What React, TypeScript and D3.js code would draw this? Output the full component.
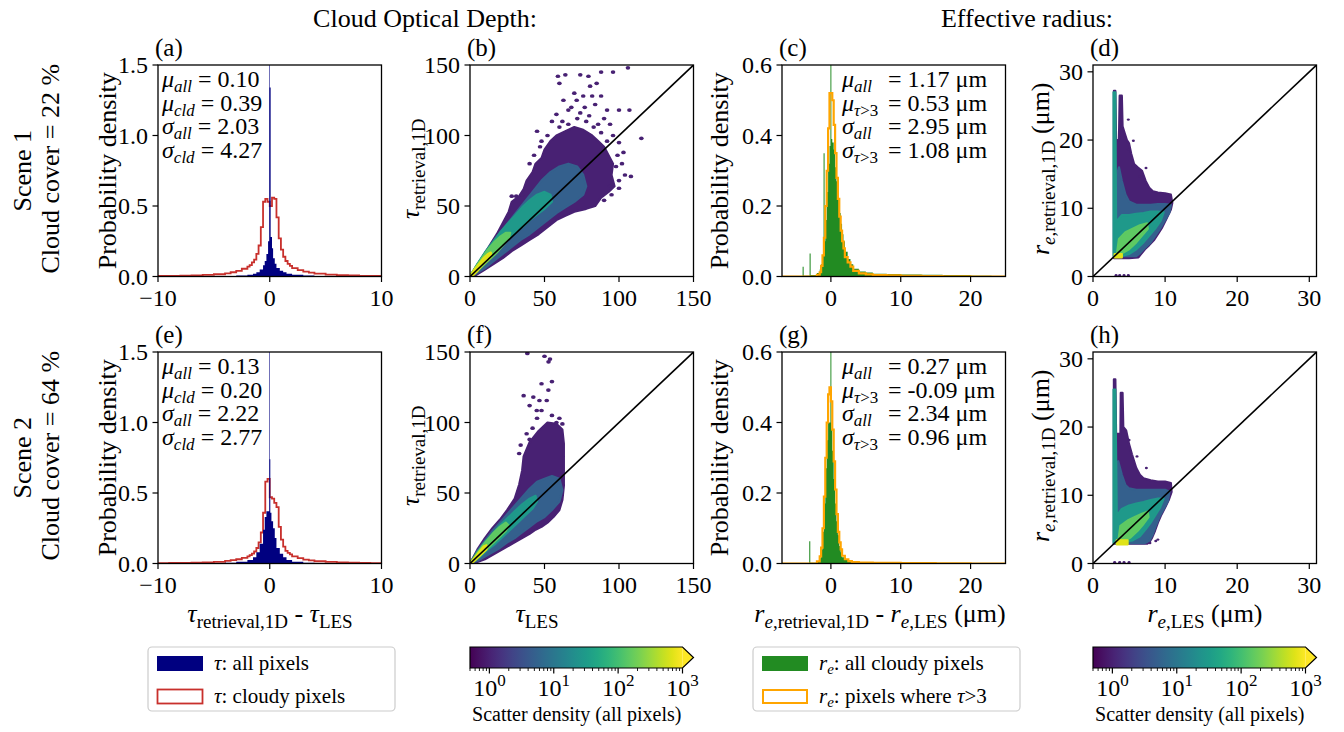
import React from "react"
import * as d3 from "d3"

const FONT = "'Liberation Serif', 'Times New Roman', Times, serif"

// ---------- values ----------
// (a)/(e) tau_retrieval,1D - tau_LES : bin edges + probability density
const tauAllEdges1 = [-10, -6, -4, -3, -2, -1.5, -1.2, -0.9, -0.6, -0.45, -0.3, -0.15, -0.05, 0, 0.08, 0.2, 0.3, 0.45, 0.6, 0.9, 1.2, 1.5, 2, 3, 4, 6, 10]
const tauAllDens1 = [0.001, 0.002, 0.004, 0.007, 0.012, 0.02, 0.03, 0.05, 0.08, 0.11, 0.16, 0.25, 3.0, 1.34, 0.28, 0.2, 0.13, 0.09, 0.06, 0.04, 0.03, 0.02, 0.012, 0.007, 0.004, 0.001]
const tauAllEdges2 = [-10, -6, -4, -3, -2, -1.5, -1.2, -0.9, -0.6, -0.45, -0.3, -0.15, -0.05, 0, 0.05, 0.15, 0.3, 0.45, 0.6, 0.9, 1.2, 1.5, 2, 3, 4, 6, 10]
const tauAllDens2 = [0.001, 0.003, 0.006, 0.012, 0.025, 0.045, 0.08, 0.14, 0.24, 0.33, 0.37, 0.37, 2.5, 0.74, 0.36, 0.3, 0.25, 0.18, 0.11, 0.07, 0.045, 0.025, 0.012, 0.006, 0.003, 0.001]
const tauCldEdges = [-10, -9, -8, -7, -6, -5, -4, -3.5, -3, -2.5, -2, -1.8, -1.6, -1.4, -1.2, -1.0, -0.8, -0.6, -0.4, -0.2, 0, 0.2, 0.4, 0.6, 0.8, 1.0, 1.2, 1.4, 1.6, 1.8, 2, 2.5, 3, 3.5, 4, 5, 6, 7, 8, 9, 10]
const tauCldDens1 = [0.004, 0.005, 0.006, 0.008, 0.011, 0.016, 0.022, 0.03, 0.04, 0.055, 0.07, 0.08, 0.1, 0.12, 0.16, 0.22, 0.35, 0.53, 0.55, 0.53, 0.5, 0.56, 0.55, 0.42, 0.27, 0.19, 0.14, 0.11, 0.09, 0.075, 0.06, 0.045, 0.035, 0.027, 0.02, 0.014, 0.01, 0.007, 0.005, 0.004]
const tauCldDens2 = [0.003, 0.004, 0.005, 0.006, 0.008, 0.012, 0.018, 0.024, 0.03, 0.04, 0.05, 0.06, 0.07, 0.085, 0.11, 0.15, 0.22, 0.36, 0.58, 0.6, 0.47, 0.46, 0.43, 0.4, 0.26, 0.17, 0.12, 0.09, 0.075, 0.065, 0.05, 0.038, 0.028, 0.022, 0.016, 0.011, 0.008, 0.006, 0.004, 0.003]

// (c)/(g) r_e,retrieval,1D - r_e,LES (um)
const reAllEdges1 = [-7, -4.05, -3.9, -3.05, -2.9, -2.0, -1.6, -1.4, -1.2, -1.05, -0.9, -0.8, -0.6, -0.4, -0.2, -0.07, 0.07, 0.2, 0.4, 0.6, 0.8, 1.0, 1.2, 1.4, 1.6, 1.8, 2.0, 2.4, 2.8, 3.2, 4, 5, 6, 8, 10, 13, 16, 20, 23, 25]
const reAllDens1 = [0, 0.028, 0.002, 0.065, 0.004, 0.01, 0.02, 0.035, 0.06, 0.35, 0.1, 0.16, 0.24, 0.32, 0.37, 0.6, 0.39, 0.38, 0.36, 0.31, 0.27, 0.22, 0.18, 0.15, 0.12, 0.1, 0.07, 0.05, 0.035, 0.022, 0.014, 0.011, 0.008, 0.007, 0.006, 0.005, 0.004, 0.002, 0]
const reTauEdges1 = [-7, -2, -1.6, -1.4, -1.2, -1.0, -0.8, -0.6, -0.4, -0.2, 0, 0.2, 0.4, 0.6, 0.8, 1.0, 1.2, 1.4, 1.6, 1.8, 2.0, 2.4, 2.8, 3.2, 4, 5, 6, 8, 10, 13, 16, 20, 25]
const reTauDens1 = [0, 0.005, 0.012, 0.03, 0.06, 0.11, 0.2, 0.3, 0.42, 0.52, 0.52, 0.5, 0.43, 0.35, 0.28, 0.22, 0.17, 0.13, 0.1, 0.08, 0.055, 0.04, 0.028, 0.016, 0.009, 0.006, 0.004, 0.003, 0.002, 0.001, 0.0005, 0]
const reAllEdges2 = [-7, -3.1, -2.95, -2, -1.6, -1.4, -1.2, -1.0, -0.8, -0.6, -0.4, -0.2, -0.07, 0.07, 0.2, 0.4, 0.6, 0.8, 1.0, 1.2, 1.4, 1.6, 2.0, 2.5, 3, 4, 6, 10, 15, 20, 25]
const reAllDens2 = [0.001, 0.063, 0.002, 0.006, 0.015, 0.04, 0.09, 0.17, 0.27, 0.35, 0.4, 0.4, 0.6, 0.38, 0.32, 0.24, 0.17, 0.12, 0.08, 0.05, 0.032, 0.018, 0.01, 0.006, 0.004, 0.003, 0.002, 0.0015, 0.001, 0]
const reTauEdges2 = [-7, -2, -1.6, -1.4, -1.2, -1.0, -0.8, -0.6, -0.4, -0.2, 0, 0.2, 0.4, 0.6, 0.8, 1.0, 1.2, 1.4, 1.6, 2.0, 2.5, 3, 4, 6, 10, 15, 20, 25]
const reTauDens2 = [0, 0.006, 0.02, 0.045, 0.1, 0.19, 0.3, 0.4, 0.48, 0.5, 0.46, 0.38, 0.29, 0.21, 0.14, 0.09, 0.06, 0.04, 0.022, 0.012, 0.007, 0.004, 0.0025, 0.0015, 0.001, 0.0005, 0]

// scatter density: outlines of the regions reaching each density level
const densityLevels = [1, 5, 30, 150, 700]

// (b) scene 1, tau
const tau1Lvl0 = [[0, 0], [6, 10], [12, 20], [18, 30], [22, 38], [26, 46], [28, 53], [33, 57], [36, 62], [38, 68], [42, 74], [44, 80], [48, 84], [50, 90], [54, 96], [58, 100], [64, 103], [70, 106], [76, 104], [82, 100], [86, 96], [90, 92], [93, 86], [96, 80], [95, 72], [97, 64], [93, 60], [88, 56], [84, 50], [78, 48], [70, 46], [64, 43], [58, 40], [52, 35], [46, 30], [40, 26], [34, 22], [28, 18], [22, 13], [16, 9], [10, 5], [4, 1]]
const tau1Lvl1 = [[0, 0], [6, 10], [12, 19], [18, 28], [24, 36], [30, 44], [36, 52], [42, 60], [48, 68], [54, 74], [60, 78], [66, 80], [72, 78], [76, 72], [78, 64], [76, 58], [70, 53], [64, 49], [58, 45], [52, 40], [46, 35], [40, 30], [34, 26], [28, 21], [22, 16], [16, 11], [10, 6], [4, 2]]
const tau1Lvl2 = [[0, 0], [5, 9], [10, 17], [15, 24], [20, 31], [25, 37], [30, 43], [35, 49], [40, 54], [45, 58], [50, 60], [54, 58], [55, 53], [50, 48], [45, 44], [40, 40], [35, 35], [30, 31], [25, 26], [20, 21], [15, 15], [10, 10], [5, 5], [1, 0]]
const tau1Lvl3 = [[0, 0], [4, 7], [8, 13], [12, 19], [16, 24], [20, 28], [24, 31], [27, 31], [26, 27], [22, 22], [18, 17], [14, 13], [10, 9], [6, 5], [2, 1]]
const tau1Lvl4 = [[0, 0], [3, 5], [6, 9], [9, 13], [12, 16], [14, 17], [14, 14], [11, 11], [8, 8], [5, 4], [2, 1]]
const tau1Sparse = [[45, 103], [60, 137], [59, 142], [64, 143], [74, 143], [79.5, 142], [88, 145], [96, 145], [106, 148], [100, 118], [107, 118], [115, 98], [108, 71], [100, 62.6], [94, 64], [76, 128], [80.6, 135], [85, 137], [71.6, 125], [62.7, 125], [66, 118], [72, 112], [84, 122], [90, 112], [78, 110], [86, 108], [96, 100], [100, 95], [103, 88], [98, 78], [104, 72], [100, 68], [28, 57], [31, 57], [35, 58], [55, 110], [58, 115], [62, 110], [68, 120], [88, 128], [92, 118], [82, 128], [60, 106], [52, 100], [48, 96], [74, 116], [80, 114], [88, 102], [92, 96], [99, 86], [102, 80], [95, 58], [90, 54], [66, 108], [70, 130], [77, 120], [83, 106], [94, 108], [40, 80], [43, 86], [47, 92]]

// (f) scene 2, tau
const tau2Lvl0 = [[0, 0], [5, 10], [10, 18], [15, 25], [20, 31], [25, 38], [30, 46], [33, 56], [35, 66], [36, 76], [40, 86], [46, 94], [52, 100], [58, 99], [62, 95], [63, 85], [63, 70], [63, 55], [62, 45], [60, 38], [56, 33], [52, 29], [48, 26], [44, 24], [40, 21], [35, 18], [30, 15], [25, 12], [20, 9], [15, 6], [10, 3], [5, 1]]
const tau2Lvl1 = [[0, 0], [5, 9], [10, 16], [15, 23], [20, 29], [25, 35], [30, 41], [35, 47], [40, 53], [45, 58], [50, 60], [55, 62], [60, 60], [62, 52], [60, 44], [55, 38], [50, 33], [45, 30], [40, 26], [35, 22], [30, 18], [25, 15], [20, 11], [15, 8], [10, 5], [5, 2]]
const tau2Lvl2 = [[0, 0], [5, 8], [10, 15], [15, 21], [20, 27], [25, 32], [30, 37], [35, 42], [40, 46], [44, 48], [45, 44], [42, 39], [37, 34], [32, 29], [27, 24], [22, 19], [17, 14], [12, 10], [7, 5], [3, 2]]
const tau2Lvl3 = [[0, 0], [4, 6], [8, 12], [12, 17], [16, 22], [20, 26], [24, 29], [26, 27], [24, 23], [20, 19], [16, 15], [12, 11], [8, 7], [4, 3]]
const tau2Lvl4 = [[0, 0], [3, 4], [6, 8], [9, 12], [11, 13], [11, 10], [8, 7], [5, 4], [2, 1]]
const tau2Sparse = [[38.5, 149], [50, 147], [52.7, 143], [53.7, 145], [48, 127.5], [55, 129], [36, 119], [42.5, 118], [51.5, 115.6], [48, 108.5], [52.6, 123], [44.8, 108.5], [46.6, 115.6], [40, 112], [45, 103], [55, 105], [58, 100], [42, 96], [38, 92], [40, 88], [34, 84], [33, 78], [60, 103], [62, 99]]

// (d) scene 1, r_e
const re1Lvl0 = [[2.9, 2.7], [2.9, 27.2], [3.1, 27.2], [3.2, 20], [3.6, 20], [3.7, 26.5], [4.0, 26.5], [4.1, 22], [4.4, 21], [4.7, 20], [5.0, 19.5], [5.3, 18], [5.7, 16.5], [6.2, 16], [6.8, 15.5], [7.3, 14], [7.8, 13], [8.3, 12.5], [9, 12.3], [10, 12.2], [10.8, 12], [11, 10.8], [10.8, 9.8], [10.2, 8.5], [9.6, 7.2], [9, 6.2], [8.5, 5.4], [7.8, 4.6], [7.2, 4], [6.6, 3.2], [6.3, 2.8], [5, 2.7], [4, 2.7]]
const re1Lvl1 = [[3.1, 3], [3.1, 14], [3.6, 16], [4.0, 14], [4.5, 12], [5, 11], [6, 10.5], [7, 10.5], [8, 10.5], [9, 10.6], [10, 10.6], [10.8, 10.5], [10.6, 9.4], [10, 8.3], [9.3, 7], [8.6, 5.9], [8, 5], [7.2, 4.2], [6.5, 3.4], [6, 3]]
const re1Lvl2 = [[2.85, 3], [2.85, 27], [3.1, 27], [3.2, 8], [4, 9], [5, 9], [6, 9.2], [7, 9.3], [8, 9.5], [9, 9.5], [9.8, 9.4], [9.4, 8.2], [8.6, 7], [7.8, 6], [7, 5], [6, 4], [5, 3.3], [4, 3]]
const re1Lvl3 = [[3.3, 3.2], [3.6, 5.5], [4.5, 6.5], [5.5, 7], [6.5, 7.5], [7.5, 7.8], [7.6, 7], [6.8, 6], [6, 5], [5, 4], [4, 3.4]]
const re1Lvl4 = [[3.0, 2.8], [3.0, 3.3], [4.0, 3.3], [4.0, 2.8]]
const re1Sparse = [[4.9, 23], [5.6, 19.9], [7.35, 15.9], [7.4, 13.5], [5.6, 16.2], [6.5, 14.7], [4.9, 18.6], [3.2, 0.2], [3.7, 0.2], [4.3, 0.2], [4.9, 0.2]]

// (h) scene 2, r_e
const re2Lvl0 = [[2.9, 2.9], [2.9, 27], [3.1, 27], [3.2, 19], [3.8, 19], [3.85, 25], [4.1, 25], [4.2, 20], [4.6, 19.5], [5, 17.5], [5.4, 16], [6, 14], [6.5, 13], [7, 12.5], [8, 12.2], [9, 12], [10, 12], [10.8, 11.8], [10.9, 10.5], [10.5, 9.3], [10, 8.2], [9.5, 7.2], [9, 6], [8.6, 4.8], [8.2, 3.8], [7.8, 3.1], [7.5, 2.9]]
const re2Lvl1 = [[3.1, 3], [3.1, 14], [3.5, 15], [4.0, 13], [4.5, 11.5], [5, 11], [6, 10.8], [7, 10.8], [8, 10.8], [9, 10.8], [10, 10.8], [10.6, 10.5], [10.4, 9.2], [9.8, 8], [9.2, 6.8], [8.7, 5.5], [8.3, 4.3], [7.8, 3.3], [7.2, 3]]
const re2Lvl2 = [[2.85, 3], [2.85, 25.5], [3.1, 25.5], [3.3, 7], [4, 8], [5, 8.5], [6, 8.8], [7, 9], [8, 9.3], [9, 9.5], [9.8, 9.5], [9.3, 8.2], [8.6, 7], [8, 6], [7.3, 5], [6.5, 4], [5.5, 3.4], [4.5, 3.2]]
const re2Lvl3 = [[3.5, 3.2], [3.8, 5.5], [4.8, 6.3], [5.8, 6.8], [6.8, 7.3], [7.6, 7.6], [7.7, 6.8], [7, 5.8], [6.2, 4.8], [5.2, 3.8], [4.3, 3.3]]
const re2Lvl4 = [[3.3, 2.8], [3.3, 3.4], [4.8, 3.4], [4.8, 2.8]]
const re2Sparse = [[5, 18.1], [4.65, 18.6], [6.1, 15.7], [7.4, 14], [8.7, 3.3], [9, 3.5], [7.9, 3.0], [3.0, 0.2], [3.7, 0.2], [4.3, 0.2], [5.0, 0.2]]

// ticks and text
const tauDiffTicks = [-10, 0, 10]
const tauDensTicks = [0, 0.5, 1.0, 1.5]
const tauScatTicks = [0, 50, 100, 150]
const reDiffTicks = [0, 10, 20]
const reDensTicks = [0, 0.2, 0.4, 0.6]
const reScatTicks = [0, 10, 20, 30]
const cbMajor = [1, 10, 100, 1000]
const tauStats1 = [["μ", "all", "0.10"], ["μ", "cld", "0.39"], ["σ", "all", "2.03"], ["σ", "cld", "4.27"]]
const tauStats2 = [["μ", "all", "0.13"], ["μ", "cld", "0.20"], ["σ", "all", "2.22"], ["σ", "cld", "2.77"]]
const reStats1 = [["μ", "all", "1.17"], ["μ", "τ>3", "0.53"], ["σ", "all", "2.95"], ["σ", "τ>3", "1.08"]]
const reStats2 = [["μ", "all", "0.27"], ["μ", "τ>3", "-0.09"], ["σ", "all", "2.34"], ["σ", "τ>3", "0.96"]]
const cloudCover = ["22", "64"]

// ---------- layout ----------
const COLX = [158, 470, 782, 1093]
const ROWY = [65, 352]
const AW = 223.5
const AH = 211.5

const NAVY = "#000080"
const RED = "#c8302c"
const GREEN = "#228b22"
const ORANGE = "#ffa500"

const cmap = d3.scaleSequentialLog(d3.interpolateViridis).domain([0.5, 1000])

function stepPath(edges, vals, x, y, closed) {
  let p = `M${x(edges[0])},${y(0)}`
  vals.forEach((v, i) => {
    p += `L${x(edges[i])},${y(v)}L${x(edges[i + 1])},${y(v)}`
  })
  p += `L${x(edges[edges.length - 1])},${y(0)}`
  return closed ? p + "Z" : p
}

const fmtMinus = (v, digits) => v.toFixed(digits).replace("-", "\u2212")

function Axes({ id, col, row, x, y, xTicks, yTicks, yDigits, children }) {
  const x0 = COLX[col]
  const y0 = ROWY[row]
  return (
    <g>
      <defs>
        <clipPath id={id}>
          <rect x={x0} y={y0} width={AW} height={AH} />
        </clipPath>
      </defs>
      <g clipPath={`url(#${id})`}>{children}</g>
      <rect x={x0} y={y0} width={AW} height={AH} fill="none" stroke="#000" strokeWidth={1.3} />
      {xTicks.map(t => (
        <g key={"x" + t}>
          <line x1={x(t)} x2={x(t)} y1={y0 + AH} y2={y0 + AH + 5.5} stroke="#000" strokeWidth={1.2} />
          <text x={x(t)} y={y0 + AH + 29} textAnchor="middle" fontSize={24}>{fmtMinus(t, 0)}</text>
        </g>
      ))}
      {yTicks.map(t => (
        <g key={"y" + t}>
          <line x1={x0 - 5.5} x2={x0} y1={y(t)} y2={y(t)} stroke="#000" strokeWidth={1.2} />
          <text x={x0 - 10} y={y(t)} dy="0.34em" textAnchor="end" fontSize={24}>{fmtMinus(t, yDigits)}</text>
        </g>
      ))}
    </g>
  )
}

function HistPanel({ id, col, row, xDomain, yDomain, xTicks, yTicks, fillEdges, fillDens, fillColor, stepEdges, stepDens, stepColor, stepWidth, stepBelow }) {
  const x0 = COLX[col]
  const y0 = ROWY[row]
  const x = d3.scaleLinear().domain(xDomain).range([x0, x0 + AW])
  const y = d3.scaleLinear().domain(yDomain).range([y0 + AH, y0])
  const step = <path d={stepPath(stepEdges, stepDens, x, y, false)} fill="none" stroke={stepColor} strokeWidth={stepWidth} />
  return (
    <Axes id={id} col={col} row={row} x={x} y={y} xTicks={xTicks} yTicks={yTicks} yDigits={1}>
      {stepBelow && step}
      <path d={stepPath(fillEdges, fillDens, x, y, true)} fill={fillColor} stroke="none" />
      {!stepBelow && step}
    </Axes>
  )
}

function ScatterPanel({ id, col, row, max, ticks, levels, sparse, dot }) {
  const x0 = COLX[col]
  const y0 = ROWY[row]
  const x = d3.scaleLinear().domain([0, max]).range([x0, x0 + AW])
  const y = d3.scaleLinear().domain([0, max]).range([y0 + AH, y0])
  const line = d3.line().x(d => x(d[0])).y(d => y(d[1])).curve(d3.curveLinearClosed)
  return (
    <Axes id={id} col={col} row={row} x={x} y={y} xTicks={ticks} yTicks={ticks} yDigits={0}>
      {levels.map((pts, i) => (
        <path key={i} d={line(pts)} fill={cmap(densityLevels[i])} stroke={cmap(densityLevels[i])} strokeWidth={2.2} strokeLinejoin="round" />
      ))}
      {sparse.map((p, i) => (
        <ellipse key={"s" + i} cx={x(p[0])} cy={y(p[1])} rx={dot} ry={dot * 0.8} fill={cmap(1)} />
      ))}
      <line x1={x(0)} y1={y(0)} x2={x(max)} y2={y(max)} stroke="#000" strokeWidth={1.6} />
    </Axes>
  )
}

function StatsTau({ col, row, stats }) {
  const x0 = COLX[col] + 4
  const y0 = ROWY[row] + 22
  return (
    <g fontSize={24}>
      {stats.map((s, i) => (
        <text key={i} x={x0} y={y0 + i * 23.5}>
          <tspan fontStyle="italic">{s[0]}</tspan>
          <tspan fontStyle="italic" fontSize={17} dy={5}>{s[1]}</tspan>
          <tspan dy={-5}>{" = " + s[2]}</tspan>
        </text>
      ))}
    </g>
  )
}

function StatsRe({ col, row, stats }) {
  const x0 = COLX[col] + 60
  const y0 = ROWY[row] + 22
  return (
    <g fontSize={24}>
      {stats.map((s, i) => (
        <g key={i}>
          <text x={x0} y={y0 + i * 23.5}>
            <tspan fontStyle="italic">{s[0]}</tspan>
            {s[1] === "all"
              ? <tspan fontStyle="italic" fontSize={17} dy={5}>all</tspan>
              : <tspan fontSize={17} dy={5}><tspan fontStyle="italic">τ</tspan>{">3"}</tspan>}
          </text>
          <text x={x0 + 46} y={y0 + i * 23.5}>{"= " + s[2] + " μm"}</text>
        </g>
      ))}
    </g>
  )
}

function Colorbar({ col, id }) {
  const x0 = COLX[col]
  const x1 = x0 + 212.5
  const tip = x0 + AW
  const top = 647
  const bot = 668
  const s = d3.scaleLog().domain([0.5, 1000]).range([x0, x1])
  const ticks = s.ticks()
  const stops = d3.range(0, 1.0001, 0.05)
  return (
    <g>
      <defs>
        <linearGradient id={id} x1="0" x2="1" y1="0" y2="0">
          {stops.map(t => <stop key={t} offset={t} stopColor={d3.interpolateViridis(t)} />)}
        </linearGradient>
      </defs>
      <rect x={x0} y={top} width={x1 - x0} height={bot - top} fill={`url(#${id})`} />
      <path d={`M${x1},${top}L${tip},${(top + bot) / 2}L${x1},${bot}Z`} fill={d3.interpolateViridis(1)} />
      <path d={`M${x0},${top}L${x1},${top}L${tip},${(top + bot) / 2}L${x1},${bot}L${x0},${bot}Z`} fill="none" stroke="#000" strokeWidth={1.2} />
      {ticks.map(t => {
        const major = cbMajor.includes(t)
        return <line key={t} x1={s(t)} x2={s(t)} y1={bot} y2={bot + (major ? 5.5 : 3)} stroke="#000" strokeWidth={major ? 1.2 : 0.9} />
      })}
      {cbMajor.map(t => (
        <text key={t} x={s(t)} y={696} textAnchor="middle" fontSize={24}>
          10<tspan dy={-10} fontSize={17}>{Math.log10(t)}</tspan>
        </text>
      ))}
      <text x={(x0 + tip) / 2 - 5} y={721} textAnchor="middle" fontSize={20}>Scatter density (all pixels)</text>
    </g>
  )
}

export default function App() {
  const levels = [
    [tau1Lvl0, tau1Lvl1, tau1Lvl2, tau1Lvl3, tau1Lvl4],
    [tau2Lvl0, tau2Lvl1, tau2Lvl2, tau2Lvl3, tau2Lvl4],
    [re1Lvl0, re1Lvl1, re1Lvl2, re1Lvl3, re1Lvl4],
    [re2Lvl0, re2Lvl1, re2Lvl2, re2Lvl3, re2Lvl4],
  ]
  const panelLetters = [["(a)", "(b)", "(c)", "(d)"], ["(e)", "(f)", "(g)", "(h)"]]
  return (
    <svg width={1344} height={732} style={{ display: "block", position: "absolute", left: 0, top: 0, background: "#fff" }} fontFamily={FONT}>
      <style>{`text, tspan { font-family: 'Liberation Serif', 'Times New Roman', Times, serif; }`}</style>
      <rect width={1344} height={732} fill="#fff" />
      <text x={425} y={27} textAnchor="middle" fontSize={26}>Cloud Optical Depth:</text>
      <text x={1027} y={27} textAnchor="middle" fontSize={26}>Effective radius:</text>

      {[0, 1].map(r => (
        <g key={r}>
          <text transform={`translate(31,${ROWY[r] + AH / 2}) rotate(-90)`} textAnchor="middle" fontSize={26}>{`Scene ${r + 1}`}</text>
          <text transform={`translate(59,${ROWY[r] + AH / 2 - 2}) rotate(-90)`} textAnchor="middle" fontSize={26}>{`Cloud cover = ${cloudCover[r]} %`}</text>
          {panelLetters[r].map((l, c) => (
            <text key={l} x={COLX[c] - 3} y={ROWY[r] - 9} fontSize={25}>{l}</text>
          ))}
          <text transform={`translate(116,${ROWY[r] + AH / 2}) rotate(-90)`} textAnchor="middle" fontSize={26}>Probability density</text>
          <text transform={`translate(728,${ROWY[r] + AH / 2}) rotate(-90)`} textAnchor="middle" fontSize={26}>Probability density</text>
          <text transform={`translate(419,${ROWY[r] + AH / 2 - 2}) rotate(-90)`} textAnchor="middle" fontSize={26}>
            <tspan fontStyle="italic">τ</tspan>
            <tspan fontSize={19} dy={6}>retrieval,1D</tspan>
          </text>
          <text transform={`translate(1049,${ROWY[r] + AH / 2 - 2}) rotate(-90)`} textAnchor="middle" fontSize={26}>
            <tspan fontStyle="italic">r</tspan>
            <tspan fontSize={19} dy={6}><tspan fontStyle="italic">e</tspan>,retrieval,1D</tspan>
            <tspan dy={-6}> (μm)</tspan>
          </text>
        </g>
      ))}

      <HistPanel id="ca" col={0} row={0} xDomain={[-10, 10]} yDomain={[0, 1.5]} xTicks={tauDiffTicks} yTicks={tauDensTicks}
        fillEdges={tauAllEdges1} fillDens={tauAllDens1} fillColor={NAVY} stepEdges={tauCldEdges} stepDens={tauCldDens1} stepColor={RED} stepWidth={1.8} stepBelow />
      <HistPanel id="ce" col={0} row={1} xDomain={[-10, 10]} yDomain={[0, 1.5]} xTicks={tauDiffTicks} yTicks={tauDensTicks}
        fillEdges={tauAllEdges2} fillDens={tauAllDens2} fillColor={NAVY} stepEdges={tauCldEdges} stepDens={tauCldDens2} stepColor={RED} stepWidth={1.8} stepBelow />
      <HistPanel id="cc" col={2} row={0} xDomain={[-7, 25]} yDomain={[0, 0.6]} xTicks={reDiffTicks} yTicks={reDensTicks}
        fillEdges={reAllEdges1} fillDens={reAllDens1} fillColor={GREEN} stepEdges={reTauEdges1} stepDens={reTauDens1} stepColor={ORANGE} stepWidth={2.2} stepBelow={false} />
      <HistPanel id="cg" col={2} row={1} xDomain={[-7, 25]} yDomain={[0, 0.6]} xTicks={reDiffTicks} yTicks={reDensTicks}
        fillEdges={reAllEdges2} fillDens={reAllDens2} fillColor={GREEN} stepEdges={reTauEdges2} stepDens={reTauDens2} stepColor={ORANGE} stepWidth={2.2} stepBelow={false} />

      <ScatterPanel id="cb" col={1} row={0} max={150} ticks={tauScatTicks} levels={levels[0]} sparse={tau1Sparse} dot={2.3} />
      <ScatterPanel id="cf" col={1} row={1} max={150} ticks={tauScatTicks} levels={levels[1]} sparse={tau2Sparse} dot={2.3} />
      <ScatterPanel id="cd" col={3} row={0} max={31} ticks={reScatTicks} levels={levels[2]} sparse={re1Sparse} dot={1.5} />
      <ScatterPanel id="ch" col={3} row={1} max={31} ticks={reScatTicks} levels={levels[3]} sparse={re2Sparse} dot={1.5} />

      <StatsTau col={0} row={0} stats={tauStats1} />
      <StatsTau col={0} row={1} stats={tauStats2} />
      <StatsRe col={2} row={0} stats={reStats1} />
      <StatsRe col={2} row={1} stats={reStats2} />

      {/* x labels, bottom row */}
      <text x={270} y={622} textAnchor="middle" fontSize={26}>
        <tspan fontStyle="italic">τ</tspan><tspan fontSize={19} dy={6}>retrieval,1D</tspan>
        <tspan dy={-6}>{" - "}</tspan><tspan fontStyle="italic">τ</tspan><tspan fontSize={19} dy={6}>LES</tspan>
      </text>
      <text x={537} y={622} textAnchor="middle" fontSize={26}>
        <tspan fontStyle="italic">τ</tspan><tspan fontSize={19} dy={6}>LES</tspan>
      </text>
      <text x={880} y={622} textAnchor="middle" fontSize={26}>
        <tspan fontStyle="italic">r</tspan><tspan fontSize={19} dy={6}><tspan fontStyle="italic">e</tspan>,retrieval,1D</tspan>
        <tspan dy={-6}>{" - "}</tspan><tspan fontStyle="italic">r</tspan><tspan fontSize={19} dy={6}><tspan fontStyle="italic">e</tspan>,LES</tspan>
        <tspan dy={-6}> (μm)</tspan>
      </text>
      <text x={1205} y={622} textAnchor="middle" fontSize={26}>
        <tspan fontStyle="italic">r</tspan><tspan fontSize={19} dy={6}><tspan fontStyle="italic">e</tspan>,LES</tspan>
        <tspan dy={-6}> (μm)</tspan>
      </text>

      {/* legends */}
      <g fontSize={21}>
        <rect x={148} y={647} width={247} height={64} rx={4} fill="#fff" stroke="#cccccc" strokeWidth={1.2} />
        <rect x={157} y={656} width={46} height={15} fill={NAVY} />
        <text x={214} y={670}><tspan fontStyle="italic">τ</tspan>: all pixels</text>
        <rect x={157.5} y={689.5} width={45} height={14} fill="none" stroke={RED} strokeWidth={1.8} />
        <text x={214} y={703}><tspan fontStyle="italic">τ</tspan>: cloudy pixels</text>

        <rect x={753} y={647} width={267} height={64} rx={4} fill="#fff" stroke="#cccccc" strokeWidth={1.2} />
        <rect x={762} y={656} width={46} height={15} fill={GREEN} />
        <text x={819} y={670}><tspan fontStyle="italic">r</tspan><tspan fontStyle="italic" fontSize={15} dy={4}>e</tspan><tspan dy={-4}>: all cloudy pixels</tspan></text>
        <rect x={763} y={690} width={44} height={13} fill="none" stroke={ORANGE} strokeWidth={2} />
        <text x={819} y={703}><tspan fontStyle="italic">r</tspan><tspan fontStyle="italic" fontSize={15} dy={4}>e</tspan><tspan dy={-4}>: pixels where </tspan><tspan fontStyle="italic">τ</tspan>{">3"}</text>
      </g>

      <Colorbar col={1} id="cb1" />
      <Colorbar col={3} id="cb2" />
    </svg>
  )
}
